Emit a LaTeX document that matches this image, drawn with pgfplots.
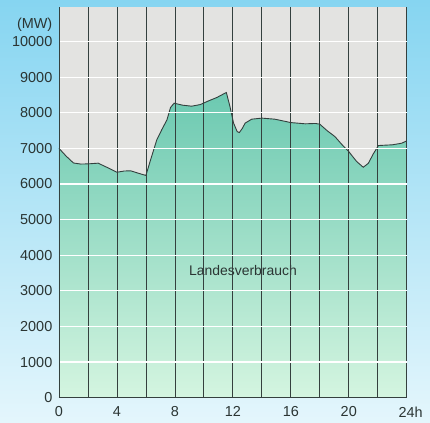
\documentclass[border=0pt]{standalone}
\usepackage{fontspec}
\setmainfont{Liberation Sans}
\usepackage{pgfplots}
\pgfplotsset{compat=1.18}
\definecolor{bluetop}{HTML}{86D5F1}
\definecolor{bluebot}{HTML}{E4F6FC}
\definecolor{greentop}{HTML}{6CC9B1}
\definecolor{greenbot}{HTML}{D4F5E0}
\definecolor{greyc}{HTML}{E3E3E1}
\definecolor{linec}{HTML}{34403E}
\definecolor{textc}{HTML}{2B3533}

\pgfplotstableread{
h mw
0 7000
0.5 6780
1.0 6590
1.5 6560
2.0 6565
2.7 6585
3.3 6470
4.0 6330
4.5 6365
4.95 6370
5.5 6300
6.0 6240
6.3 6650
6.75 7240
7.1 7530
7.45 7800
7.7 8150
7.95 8270
8.5 8215
9.15 8185
9.75 8230
10.3 8330
10.9 8430
11.55 8570
11.8 8175
12.05 7710
12.3 7470
12.45 7445
12.65 7560
12.85 7710
13.3 7820
14.0 7850
14.9 7820
16.0 7725
17.0 7690
17.7 7700
18.0 7680
18.5 7500
19.05 7330
19.5 7120
20.0 6910
20.55 6630
21.0 6470
21.35 6580
21.7 6850
22.05 7080
22.5 7090
23.0 7100
23.65 7145
24.0 7210
}\load

\begin{document}
\begin{tikzpicture}
\shade[top color=bluetop, bottom color=bluebot] (0,0) rectangle (430bp,423bp);
\begin{axis}[
  at={(59bp,25.3bp)}, anchor=south west,
  scale only axis, width=347.7bp, height=390.7bp,
  xmin=0, xmax=24, ymin=0, ymax=10970,
  axis background/.style={fill=greyc},
  axis x line=bottom, axis y line=left,
  axis line style={-, draw=linec, line width=0.8bp},
  xtick={0,4,...,24},
  xticklabels={0,4,8,12,16,20,24\rlap{h}},
  minor xtick={2,6,...,22},
  ytick={0,1000,...,10000},
  scaled y ticks=false,
  major tick length=0pt, minor tick length=0pt,
  grid=both,
  x grid style={draw=linec, line width=0.8bp},
  minor x grid style={draw=linec, line width=0.8bp},
  y grid style={draw=white, line width=1.2bp},
  axis on top,
  ticklabel style={font=\fontsize{14.5}{16}\selectfont, text=textc, inner sep=0pt},
  /pgf/number format/assume math mode=true,
  /pgf/number format/set thousands separator={},
  yticklabel style={anchor=east, xshift=-6.5bp},
  xticklabel style={anchor=north, yshift=-9bp},
  clip=false,
]
\addplot[draw=none, top color=greentop, bottom color=greenbot] table[x=h, y=mw] {\load} \closedcycle;
\addplot[linec, line width=0.9bp] table[x=h, y=mw] {\load};
\node[font=\fontsize{14}{16}\selectfont, text=textc] at (axis cs:12.7,3560) {Landesverbrauch};
\node[font=\fontsize{14.5}{16}\selectfont, text=textc, anchor=east, inner sep=0pt, xshift=-6.5bp] at (axis cs:0,10470) {(MW)};
\end{axis}
\pgfresetboundingbox
\path (0,0) rectangle (430bp,423bp);
\end{tikzpicture}
\end{document}
